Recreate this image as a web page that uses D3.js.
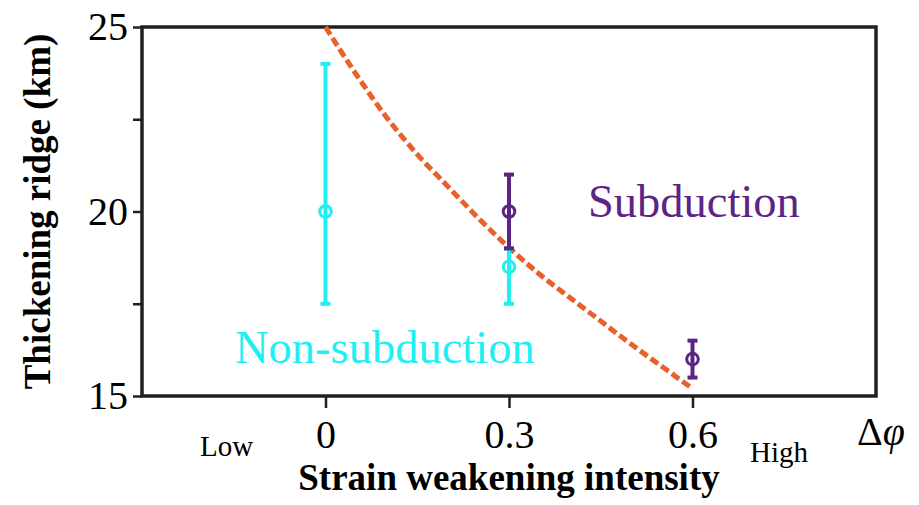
<!DOCTYPE html>
<html>
<head>
<meta charset="utf-8">
<script src="https://cdn.jsdelivr.net/npm/d3@7"></script>
<style>
  body { margin: 0; background: #fff; }
  svg { display: block; }
</style>
</head>
<body>
<svg class="chart" width="919" height="505"></svg>
<script>
// Boundary curve (dashed)
const curveX = [0, 0.05, 0.1, 0.15, 0.2, 0.25, 0.3, 0.35, 0.4, 0.45, 0.5, 0.55, 0.6];
const curveY = [25.0, 23.72, 22.55, 21.55, 20.68, 19.82, 19.02, 18.3, 17.66, 17.03, 16.4, 15.8, 15.2];

// Non-subduction points with error bars
const nonSubX = [0, 0.3];
const nonSubY = [20, 18.5];
const nonSubLo = [17.5, 17.5];
const nonSubHi = [24, 19.0];

// Subduction points with error bars
const subX = [0.3, 0.6];
const subY = [20, 16];
const subLo = [19.0, 15.5];
const subHi = [21, 16.5];

const xTicks = [0, 0.3, 0.6];
const yTicks = [15, 17.5, 20, 22.5, 25];
const yLabels = [15, 20, 25];

const cyan = '#1EEFF3';
const purple = '#5C2484';
const orange = '#E8612B';
const ink = '#231F20';
const serif = '"Liberation Serif", "Times New Roman", serif';

var margin = { top: 27, right: 43, bottom: 109, left: 142 };
var svg = d3.select('.chart');
var width = svg.attr('width') - margin.left - margin.right;
var height = svg.attr('height') - margin.top - margin.bottom;

var x = d3.scaleLinear().domain([-0.3, 0.9]).range([0, width]);
var y = d3.scaleLinear().domain([15, 25]).range([height, 0]);

var g = svg.append('g')
    .attr('transform', 'translate(' + margin.left + ',' + margin.top + ')');

// y axis ticks + labels
var yAxis = g.append('g')
    .call(d3.axisLeft(y).tickValues(yTicks).tickSize(9)
        .tickFormat(d => yLabels.includes(d) ? d : ''));
yAxis.select('.domain').remove();
yAxis.selectAll('line').attr('stroke', ink).attr('stroke-width', 2.5);
yAxis.selectAll('text')
    .attr('fill', '#000')
    .attr('x', -14)
    .style('font-family', serif)
    .style('font-size', '40px');

// x axis ticks + labels
var xAxis = g.append('g')
    .attr('transform', 'translate(0,' + height + ')')
    .call(d3.axisBottom(x).tickValues(xTicks).tickSize(12).tickFormat(d3.format('')));
xAxis.select('.domain').remove();
xAxis.selectAll('line').attr('stroke', ink).attr('stroke-width', 2.5);
xAxis.selectAll('text')
    .attr('fill', '#000')
    .attr('y', 24)
    .style('font-family', serif)
    .style('font-size', '40px');

// frame
g.append('rect')
    .attr('x', 0).attr('y', 0)
    .attr('width', width).attr('height', height)
    .attr('fill', 'none')
    .attr('stroke', ink)
    .attr('stroke-width', 3.5);

// dashed boundary curve
var line = d3.line()
    .x(d => x(d[0]))
    .y(d => y(d[1]))
    .curve(d3.curveMonotoneX);

g.append('path')
    .datum(curveX.map((v, i) => [v, curveY[i]]))
    .attr('d', line)
    .attr('fill', 'none')
    .attr('stroke', orange)
    .attr('stroke-width', 5)
    .attr('stroke-dasharray', '9,4');

function errorBars(xs, ys, lo, hi, color) {
    var data = xs.map((v, i) => ({ x: v, y: ys[i], lo: lo[i], hi: hi[i] }));
    var s = g.append('g');
    s.selectAll('.bar').data(data).enter().append('line')
        .attr('x1', d => x(d.x)).attr('x2', d => x(d.x))
        .attr('y1', d => y(d.lo)).attr('y2', d => y(d.hi))
        .attr('stroke', color).attr('stroke-width', 4);
    s.selectAll('.capT').data(data).enter().append('line')
        .attr('x1', d => x(d.x) - 5).attr('x2', d => x(d.x) + 5)
        .attr('y1', d => y(d.hi)).attr('y2', d => y(d.hi))
        .attr('stroke', color).attr('stroke-width', 4);
    s.selectAll('.capB').data(data).enter().append('line')
        .attr('x1', d => x(d.x) - 5).attr('x2', d => x(d.x) + 5)
        .attr('y1', d => y(d.lo)).attr('y2', d => y(d.lo))
        .attr('stroke', color).attr('stroke-width', 4);
    s.selectAll('circle').data(data).enter().append('circle')
        .attr('cx', d => x(d.x)).attr('cy', d => y(d.y))
        .attr('r', 5.8)
        .attr('fill', 'none')
        .attr('stroke', color).attr('stroke-width', 3);
}
errorBars(nonSubX, nonSubY, nonSubLo, nonSubHi, cyan);
errorBars(subX, subY, subLo, subHi, purple);

// region labels
g.append('text')
    .attr('x', 446).attr('y', 190)
    .attr('fill', purple)
    .style('font-family', serif)
    .style('font-size', '46.5px')
    .text('Subduction');

g.append('text')
    .attr('x', 93).attr('y', 336)
    .attr('fill', cyan)
    .style('font-family', serif)
    .style('font-size', '46.5px')
    .text('Non-subduction');

// Low / High
g.append('text')
    .attr('x', 58).attr('y', height + 60)
    .style('font-family', serif)
    .style('font-size', '29px')
    .text('Low');

g.append('text')
    .attr('x', 608).attr('y', height + 66)
    .style('font-family', serif)
    .style('font-size', '29px')
    .text('High');

// Δφ
var dphi = g.append('text')
    .attr('x', 715).attr('y', height + 49)
    .style('font-family', serif)
    .style('font-size', '40px');
dphi.append('tspan').text('Δ');
dphi.append('tspan').style('font-style', 'italic').text('φ');

// axis titles
g.append('text')
    .attr('x', x(0.3)).attr('y', height + 94)
    .attr('text-anchor', 'middle')
    .style('font-family', serif)
    .style('font-weight', 'bold')
    .style('font-size', '37px')
    .text('Strain weakening intensity');

g.append('text')
    .attr('transform', 'translate(-92,' + (height / 2) + ') rotate(-90)')
    .attr('text-anchor', 'middle')
    .style('font-family', serif)
    .style('font-weight', 'bold')
    .style('font-size', '37px')
    .text('Thickening ridge (km)');
</script>
</body>
</html>
